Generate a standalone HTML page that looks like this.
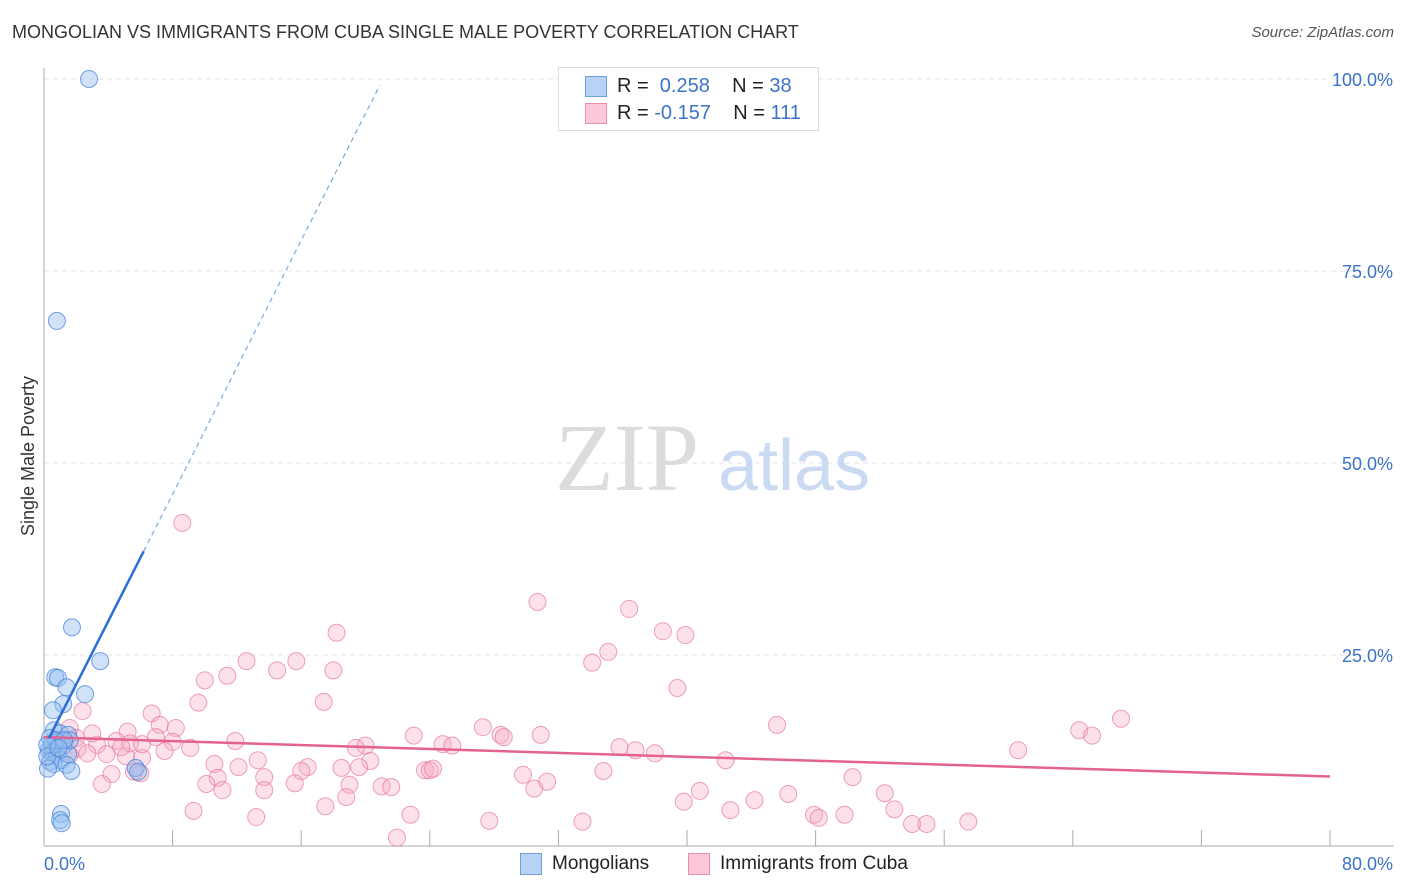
<!DOCTYPE html>
<html><head><meta charset="utf-8"><style>
body{margin:0;background:#fff;font-family:"Liberation Sans",sans-serif;}
#wrap{position:relative;width:1406px;height:892px;overflow:hidden;}
.t{position:absolute;white-space:nowrap;}
</style></head><body>
<div id="wrap">
<div class="t" style="left:12px;top:22px;font-size:18px;color:#333;">MONGOLIAN VS IMMIGRANTS FROM CUBA SINGLE MALE POVERTY CORRELATION CHART</div>
<div class="t" style="right:12px;top:24px;font-size:15px;color:#555;font-style:italic;">Source: ZipAtlas.com</div>
<svg id="svg" width="1406" height="892" style="position:absolute;left:0;top:0"></svg>
</div>
<script>
const xTicks=[0,8,16,24,32,40,48,56,64,72,80];
const yTicks=[25,50,75,100];
const yTickLabels=["25.0%","50.0%","75.0%","100.0%"];
const xEndLabels=["0.0%","80.0%"];
const mongX=[2.8,0.8,1.74,3.5,0.7,0.87,1.4,2.55,1.2,0.56,0.62,1.0,1.5,0.37,0.87,1.2,0.3,0.56,0.8,1.06,0.37,0.6,1.5,1.4,0.25,1.7,5.7,5.85,1.06,1.0,1.1,0.5,0.75,1.6,0.2,0.2,1.25,0.9];
const mongY=[100,68.5,28.6,24.2,22.1,22.0,20.8,19.9,18.6,17.8,15.2,14.8,14.6,14.2,13.7,13.2,12.6,12.4,12.0,11.3,11.1,10.8,12.1,10.7,10.2,9.9,10.3,9.8,4.3,3.5,3.1,13.3,13.9,13.9,13.3,11.8,13.9,12.9];
const cubaX=[8.6,30.7,36.4,38.5,39.9,18.2,35.1,34.1,15.7,12.6,18.0,14.5,11.4,10.0,39.4,9.6,17.4,2.4,6.7,67.0,7.2,8.2,45.6,27.3,64.4,65.2,5.2,1.6,28.4,28.6,30.9,23.0,6.96,11.9,4.5,3.3,8.0,24.8,25.4,20.0,19.4,35.8,36.8,9.1,7.5,60.6,2.1,2.7,3.9,5.1,6.1,38.0,13.3,20.3,42.4,10.6,12.1,16.4,18.5,19.6,23.7,24.0,24.2,34.8,16.0,4.2,6.0,5.6,13.7,10.8,29.8,50.3,31.3,3.6,10.1,15.6,19.0,21.0,21.6,11.1,13.7,30.5,40.8,18.8,46.3,52.3,39.8,44.2,17.5,52.9,42.7,9.3,13.2,22.8,47.9,49.8,48.2,27.7,33.5,54.0,54.9,57.5,21.96,5.35,1.0,1.3,6.1,2.0,1.6,3.0,4.8];
const cubaY=[42.2,31.9,31.0,28.1,27.6,27.9,25.4,24.0,24.2,24.2,23.0,23.0,22.3,21.7,20.7,18.8,18.9,17.7,17.4,16.7,15.9,15.5,15.9,15.6,15.2,14.5,15.0,15.5,14.6,14.3,14.6,14.5,14.3,13.8,13.8,13.3,13.7,13.4,13.2,13.2,12.9,13.0,12.6,12.9,12.5,12.6,12.8,12.2,12.1,11.8,11.6,12.2,11.3,11.2,11.3,10.8,10.4,10.4,10.3,10.4,10.0,10.0,10.2,9.9,9.9,9.5,9.6,9.8,9.1,9.0,9.4,9.1,8.5,8.2,8.2,8.3,8.1,7.9,7.8,7.4,7.4,7.6,7.3,6.5,6.9,7.0,5.9,6.1,5.3,4.9,4.8,4.7,3.9,4.2,4.2,4.2,3.8,3.4,3.3,3.0,3.0,3.3,1.2,13.5,13.7,13.9,13.4,14.2,12.0,14.8,13.0];
const mongTrend=[12.9,4.13];   // intercept, slope
const cubaTrend=[14.3,-0.064];
const X=v=>44+v*16.075, Y=v=>847-v*7.68;
const svg=document.getElementById('svg');const NS='http://www.w3.org/2000/svg';
function mk(tag,attrs,parent){const e=document.createElementNS(NS,tag);for(const k in attrs)e.setAttribute(k,attrs[k]);(parent||svg).appendChild(e);return e;}
// grid
yTicks.forEach((t,i)=>{
 const g=mk('line',{x1:44,x2:1394,y1:Y(t),y2:Y(t),stroke:'#e3e3e3','stroke-dasharray':'5,4'});
 
 
 const l=mk('text',{x:1393,y:Y(t)+7,'text-anchor':'end','font-size':18,fill:'#3b73c9','font-family':'Liberation Sans, sans-serif'});l.textContent=yTickLabels[i];
 
 
});
// watermark
const wm=mk('text',{x:555,y:490,'font-size':96,fill:'#dcdcdc','font-family':'Liberation Serif, serif'});wm.textContent='ZIP';


const wm2=mk('text',{x:718,y:490,'font-size':72,fill:'#c9daf2','font-family':'Liberation Sans, sans-serif'});wm2.textContent='atlas';


// axes
const ya=mk('line',{x1:44,x2:44,y1:68,y2:846,stroke:'#aaa'});


const xa=mk('line',{x1:44,x2:1394,y1:846,y2:846,stroke:'#aaa'});


xTicks.forEach(t=>{const k=mk('line',{x1:X(t),x2:X(t),y1:830,y2:846,stroke:'#aaa'});
 
 });
const xl0=mk('text',{x:44,y:870,'font-size':18,fill:'#3b73c9','font-family':'Liberation Sans, sans-serif'});xl0.textContent=xEndLabels[0];


const xl1=mk('text',{x:1393,y:870,'text-anchor':'end','font-size':18,fill:'#3b73c9','font-family':'Liberation Sans, sans-serif'});xl1.textContent=xEndLabels[1];


const yt=mk('text',{x:34,y:456,'text-anchor':'middle','font-size':18,fill:'#333',transform:'rotate(-90 34 456)','font-family':'Liberation Sans, sans-serif'});yt.textContent='Single Male Poverty';


// points
cubaX.forEach((x,i)=>{const c=mk('circle',{cx:X(x),cy:Y(cubaY[i]),r:8.5,fill:'rgba(247,170,195,0.35)',stroke:'rgba(232,120,160,0.7)','stroke-width':1});
 
 });
mongX.forEach((x,i)=>{const c=mk('circle',{cx:X(x),cy:Y(mongY[i]),r:8.5,fill:'rgba(150,190,240,0.45)',stroke:'rgba(70,130,215,0.75)','stroke-width':1});
 
 });
// trends
const f=(t,x)=>t[0]+t[1]*x;
const ct=mk('line',{x1:X(0),y1:Y(f(cubaTrend,0)),x2:X(80),y2:Y(f(cubaTrend,80)),stroke:'#e4628f','stroke-width':2.5});


const mt=mk('line',{x1:X(0.3),y1:Y(f(mongTrend,0.3)),x2:X(6.2),y2:Y(f(mongTrend,6.2)),stroke:'#2a6fd6','stroke-width':2.5});


const md=mk('line',{x1:X(6.2),y1:Y(f(mongTrend,6.2)),x2:X(20.9),y2:Y(f(mongTrend,20.9)),stroke:'#7aa6e0','stroke-width':1.2,'stroke-dasharray':'5,4'});


</script>
<div class="t" style="left:558px;top:67px;width:259px;height:62px;border:1px solid #ddd;background:#fff;">
 <div style="position:absolute;left:26px;top:8px;width:20px;height:19px;background:#b7d2f5;border:1px solid #6f9fdf"></div>
 <div style="position:absolute;left:26px;top:35px;width:20px;height:19px;background:#fcc8d8;border:1px solid #eb8eae"></div>
 <div class="t" style="left:58px;top:7px;font-size:20px;color:#222">R = &nbsp;<span style="color:#3b73c9">0.258</span>&nbsp;&nbsp;&nbsp; N = <span style="color:#3b73c9">38</span></div>
 <div class="t" style="left:58px;top:34px;font-size:20px;color:#222">R = <span style="color:#3b73c9">-0.157</span>&nbsp;&nbsp;&nbsp; N = <span style="color:#3b73c9">111</span></div>
</div>
<div class="t" style="left:520px;top:853px;width:20px;height:20px;background:#b7d2f5;border:1px solid #6f9fdf"></div>
<div class="t" style="left:552px;top:853px;font-size:19px;color:#222">Mongolians</div>
<div class="t" style="left:688px;top:853px;width:20px;height:20px;background:#fcc8d8;border:1px solid #eb8eae"></div>
<div class="t" style="left:720px;top:853px;font-size:19px;color:#222">Immigrants from Cuba</div>
</body></html>
